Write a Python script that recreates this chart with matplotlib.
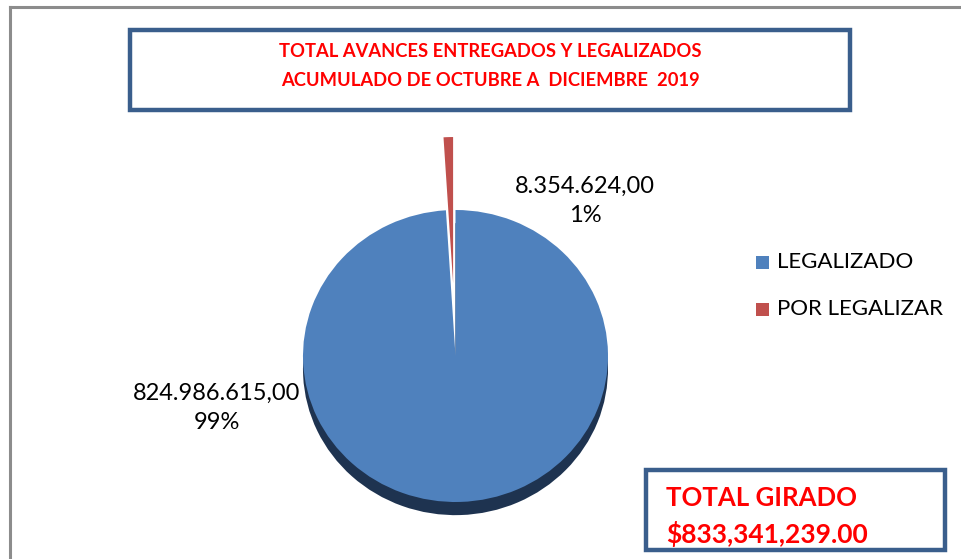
import matplotlib.pyplot as plt
from matplotlib.patches import Rectangle

plt.rcParams["font.family"] = ["Lato", "DejaVu Sans"]

categories = ["LEGALIZADO", "POR LEGALIZAR"]
values = [824986615.00, 8354624.00]
colors = ["#4F81BD", "#C0504D"]
title_lines = ["TOTAL AVANCES ENTREGADOS Y LEGALIZADOS",
               "ACUMULADO DE OCTUBRE A  DICIEMBRE  2019"]

W, H = 962, 559
fig = plt.figure(figsize=(W / 100, H / 100), dpi=100)


def fx(px):
    return px / W


def fy(py):
    return 1 - py / H


def eu(v):
    # 824986615.0 -> "824.986.615,00"
    s = "{:,.2f}".format(v)
    return s.replace(",", "X").replace(".", ",").replace("X", ".")


# outer chart frame (only left and top edges show)
fig.add_artist(plt.Line2D([fx(10), fx(10)], [fy(7), 0], color="#8C8C8C", lw=2.2))
fig.add_artist(plt.Line2D([fx(10), 1], [fy(7), fy(7)], color="#8C8C8C", lw=2.2))

# pie axes: one data unit = 152.5 px across, 146 px down (tilted look)
L = 1.6
cx, cy, rx, ry = 455.5, 356, 152.5, 146
ax = fig.add_axes([fx(cx - rx * L), fy(cy + ry * L),
                   2 * rx * L / W, 2 * ry * L / H])

# dark base under the big slice for the 3d edge
ax.pie(values, colors=["#1E3350", "none"], startangle=90, counterclock=False,
       explode=[0, 0.5], center=(0, -0.09), radius=1.0)
wedges, _ = ax.pie(values, colors=colors, startangle=90, counterclock=False,
                   explode=[0, 0.5], radius=1.0)
ax.set_aspect("auto")
ax.set_xlim(-L, L)
ax.set_ylim(-L, L)
ax.axis("off")

total = sum(values)
pcts = [v / total * 100 for v in values]
label_pos = [(217, 408), (585, 201)]
for v, p, (lx, ly) in zip(values, pcts, label_pos):
    fig.text(fx(lx), fy(ly), "{}\n{:.0f}%".format(eu(v), p), ha="center",
             va="center", fontsize=17, color="#000000", linespacing=1.5)

# legend
for i, (cat, col) in enumerate(zip(categories, colors)):
    ty = 262 + i * 47
    fig.add_artist(Rectangle((fx(756), fy(ty + 7)), 13 / W, 13 / H,
                             facecolor=col, edgecolor="none"))
    fig.text(fx(777), fy(ty), cat, ha="left", va="center", fontsize=16,
             color="#000000")

# title box
fig.add_artist(Rectangle((fx(130), fy(110)), 720 / W, 80 / H, facecolor="white",
                         edgecolor="#3A5E8C", lw=3.2))
fig.text(fx(490), fy(52), title_lines[0], ha="center", va="center",
         fontsize=13.2, fontweight="bold", color="#FF0000")
fig.text(fx(490), fy(80), title_lines[1], ha="center", va="center",
         fontsize=13.2, fontweight="bold", color="#FF0000")

# total box
fig.add_artist(Rectangle((fx(646), fy(550)), 299 / W, 80 / H, facecolor="white",
                         edgecolor="#3A5E8C", lw=3.2))
fig.text(fx(666), fy(498), "TOTAL GIRADO", ha="left", va="center",
         fontsize=18.5, fontweight="bold", color="#FF0000")
fig.text(fx(666), fy(534), "${:,.2f}".format(total), ha="left", va="center",
         fontsize=19, fontweight="bold", color="#FF0000")

fig.savefig("out.png", dpi=100)
